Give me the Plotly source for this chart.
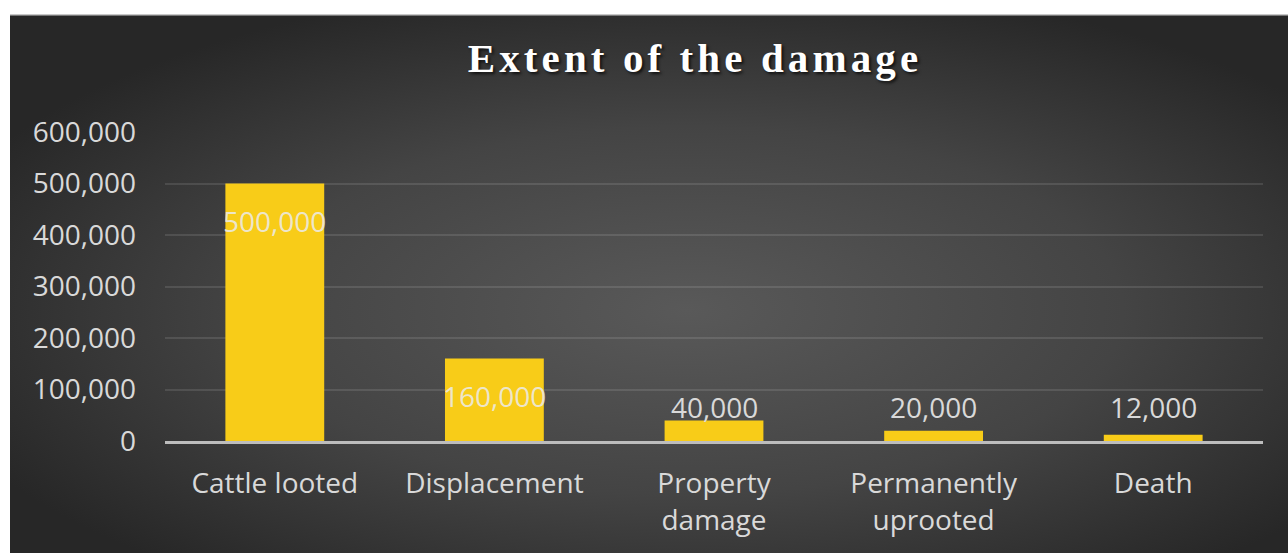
import plotly.graph_objects as go

categories = ["Cattle looted", "Displacement", "Property<br>damage", "Permanently<br>uprooted", "Death"]
values = [500000, 160000, 40000, 20000, 12000]
tick_vals = [0, 100000, 200000, 300000, 400000, 500000, 600000]
tick_text = ["0", "100,000", "200,000", "300,000", "400,000", "500,000", "600,000"]
title_text = "Extent of the damage"

W, H = 1288, 553
L, R, T, B = 165, 25, 132, 112
pw, ph = W - L - R, H - T - B

FONT = "Open Sans"
LABEL = "#d9d9d9"
FS = 28

fig = go.Figure()
fig.add_trace(go.Bar(
    x=categories, y=values,
    marker=dict(color="#F8CC18", line=dict(width=0)),
    hoverinfo="skip",
))

# data labels
inside_threshold = 100000
small = [v for v in values if v < inside_threshold]
outside_level = max(small) if small else 0
annotations = []
for c, v in zip(categories, values):
    if v >= inside_threshold:
        annotations.append(dict(x=c, y=v, xref="x", yref="y", text=f"{v:,}",
                                showarrow=False, yanchor="top", yshift=-16,
                                font=dict(family=FONT, size=FS, color="rgba(235,235,235,0.85)")))
    else:
        annotations.append(dict(x=c, y=outside_level, xref="x", yref="y", text=f"{v:,}",
                                showarrow=False, yanchor="bottom", yshift=-8,
                                font=dict(family=FONT, size=FS, color=LABEL)))

def px_to_paper_x(px):
    return (px - L) / pw

def px_to_paper_y(py):
    return (H - B - py) / ph

svg = ("data:image/svg+xml;utf8,"
       "<svg xmlns='http://www.w3.org/2000/svg' width='1278' height='539' viewBox='0 0 1278 539' preserveAspectRatio='none'>"
       "<defs><radialGradient id='g' cx='0.53' cy='0.55' r='0.62'>"
       "<stop offset='0' stop-color='%23595959'/>"
       "<stop offset='0.55' stop-color='%23444444'/>"
       "<stop offset='1' stop-color='%23272727'/>"
       "</radialGradient></defs>"
       "<rect x='0' y='0' width='1278' height='539' fill='url(%23g)'/>"
       "<rect x='0' y='0' width='1278' height='1.5' fill='%23c8c8c8'/>"
       "</svg>")

x0p, x1p = px_to_paper_x(10), px_to_paper_x(W)
y1p, y0p = px_to_paper_y(14), px_to_paper_y(H)

fig.update_layout(
    width=W, height=H,
    margin=dict(l=L, r=R, t=T, b=B, autoexpand=False),
    paper_bgcolor="white",
    plot_bgcolor="rgba(0,0,0,0)",
    bargap=0.55,
    showlegend=False,
    images=[dict(source=svg, xref="paper", yref="paper", x=x0p, y=y1p,
                 sizex=x1p - x0p, sizey=y1p - y0p, sizing="stretch",
                 xanchor="left", yanchor="top", layer="below")],
    title=dict(text=f"<b>{title_text}</b>", x=695 / W, xanchor="center",
               y=1 - 58 / H, yanchor="middle", xref="container", yref="container",
               font=dict(family="Liberation Serif", size=41, color="white",
                         shadow="2px 2px 3px rgba(0,0,0,0.7)")),
    annotations=annotations,
    font=dict(family=FONT, color=LABEL),
)
fig.update_yaxes(range=[0, 600000], tickvals=tick_vals, ticktext=tick_text,
                 showgrid=True, gridcolor="rgba(255,255,255,0.11)", gridwidth=1.5,
                 zeroline=False, showline=False, ticks="",
                 tickfont=dict(family=FONT, size=FS, color=LABEL),
                 ticklabelstandoff=28)
fig.update_xaxes(showline=True, linecolor="#bdbdbd", linewidth=2.5, ticks="",
                 tickfont=dict(family=FONT, size=FS, color=LABEL),
                 ticklabelstandoff=16, showgrid=False)

post = """
document.body.style.margin='0';
var t=document.querySelector('.gtitle'); if(t){t.style.letterSpacing='4.1px';}
"""
fig.write_html("out.html", post_script=post, config={"displayModeBar": False})
